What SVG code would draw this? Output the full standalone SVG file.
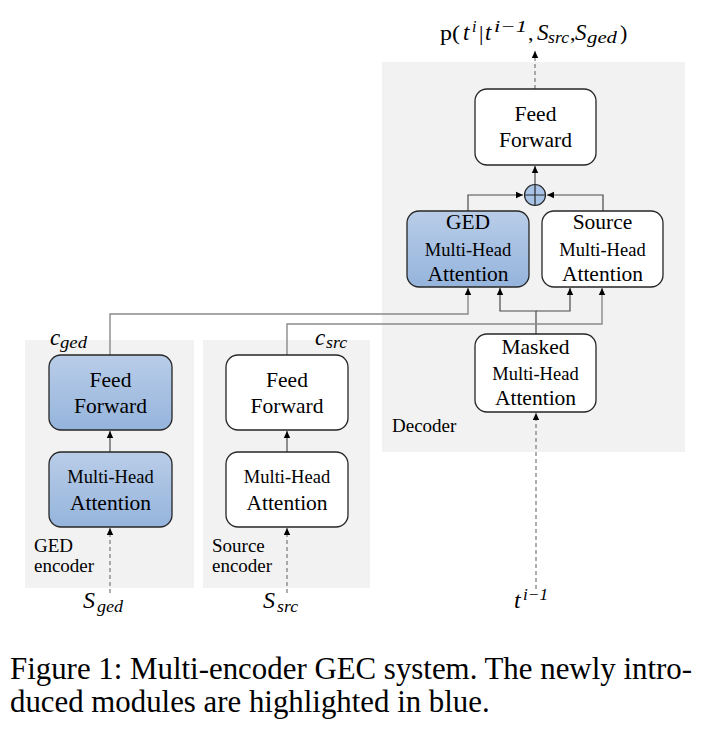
<svg xmlns="http://www.w3.org/2000/svg" width="706" height="732" viewBox="0 0 706 732">
<defs>
<linearGradient id="blue" x1="0" y1="0" x2="0" y2="1">
<stop offset="0" stop-color="#b9cde8"/>
<stop offset="1" stop-color="#95b4dc"/>
</linearGradient>
<marker id="ah" markerUnits="userSpaceOnUse" markerWidth="8" markerHeight="8" refX="7" refY="4" orient="auto">
<path d="M0,0.8 L7,4 L0,7.2 Z" fill="#000"/>
</marker>
<style>
.panel{fill:#f2f2f2;stroke:none}
.box{fill:#fff;stroke:#262626;stroke-width:1.3}
.bbox{fill:url(#blue);stroke:#262626;stroke-width:1.3}
text{font-family:'Liberation Serif','Times New Roman',Times,serif;fill:#000}
.t{text-anchor:middle}
.big{font-size:21.5px}
.mid{font-size:18.5px}
.lbl{font-size:19px}
.m{font-style:italic}
.line{fill:none;stroke:#4a4a4a;stroke-width:1.2}
.gline{fill:none;stroke:#8a8a8a;stroke-width:1.4}
.dash{fill:none;stroke:#777;stroke-width:1.2;stroke-dasharray:4,3}
.cap{font-size:30.85px}
</style>
</defs>
<rect width="706" height="732" fill="#fff"/>
<g id="panels">
<rect id="ged-encoder-panel" class="panel" x="25" y="340" width="169" height="248"/>
<rect id="source-encoder-panel" class="panel" x="203" y="340" width="167" height="248"/>
<rect id="decoder-panel" class="panel" x="382" y="62" width="303" height="390"/>
</g>
<g id="connectors">
<path class="dash" d="M535,89 V51" marker-end="url(#ah)"/>
<path class="line" d="M535,184 V166" marker-end="url(#ah)"/>
<path class="line" d="M468,211 V195 H523" marker-end="url(#ah)"/>
<path class="line" d="M603,211 V195 H547" marker-end="url(#ah)"/>
<path class="line" d="M536,334 V311 H500 V288" marker-end="url(#ah)"/>
<path class="line" d="M536,311 H570 V288" marker-end="url(#ah)"/>
<path class="gline" d="M110,355 V314 H468 V288" marker-end="url(#ah)"/>
<path class="gline" d="M287,355 V324 H602 V288" marker-end="url(#ah)"/>
<path class="line" d="M110,452 V431" marker-end="url(#ah)"/>
<path class="line" d="M287,452 V431" marker-end="url(#ah)"/>
<path class="dash" d="M110,593 V528" marker-end="url(#ah)"/>
<path class="dash" d="M287,593 V528" marker-end="url(#ah)"/>
<path class="dash" d="M536,589 V413" marker-end="url(#ah)"/>
</g>
<g id="dec-ff">
<rect class="box" x="475" y="89" width="121" height="76" rx="12"/>
<text class="t big" x="535.5" y="121">Feed</text>
<text class="t big" x="535.5" y="147">Forward</text>
</g>
<g id="sum">
<circle cx="535" cy="195" r="10.5" fill="#a9c3e6" stroke="#262626" stroke-width="1.2"/>
<path d="M524.5,195 H545.5 M535,184.5 V205.5" stroke="#262626" stroke-width="1.2"/>
</g>
<g id="dec-ged-mha">
<rect class="bbox" x="407" y="211" width="122" height="76" rx="12"/>
<text class="t big" x="468" y="229">GED</text>
<text class="t mid" x="468" y="256">Multi-Head</text>
<text class="t big" x="468" y="281">Attention</text>
</g>
<g id="dec-src-mha">
<rect class="box" x="542" y="211" width="121" height="76" rx="12"/>
<text class="t big" x="602.5" y="229">Source</text>
<text class="t mid" x="602.5" y="256">Multi-Head</text>
<text class="t big" x="602.5" y="281">Attention</text>
</g>
<g id="dec-masked-mha">
<rect class="box" x="475" y="334" width="121" height="78" rx="12"/>
<text class="t big" x="535.5" y="354">Masked</text>
<text class="t mid" x="535.5" y="380">Multi-Head</text>
<text class="t big" x="535.5" y="405">Attention</text>
</g>
<g id="enc-ged-ff">
<rect class="bbox" x="49" y="355" width="123" height="75" rx="12"/>
<text class="t big" x="110.5" y="387">Feed</text>
<text class="t big" x="110.5" y="413">Forward</text>
</g>
<g id="enc-ged-mha">
<rect class="bbox" x="49" y="452" width="123" height="75" rx="12"/>
<text class="t mid" x="110.5" y="483">Multi-Head</text>
<text class="t big" x="110.5" y="510">Attention</text>
</g>
<g id="enc-src-ff">
<rect class="box" x="226" y="355" width="122" height="75" rx="12"/>
<text class="t big" x="287" y="387">Feed</text>
<text class="t big" x="287" y="413">Forward</text>
</g>
<g id="enc-src-mha">
<rect class="box" x="226" y="452" width="122" height="75" rx="12"/>
<text class="t mid" x="287" y="483">Multi-Head</text>
<text class="t big" x="287" y="510">Attention</text>
</g>
<g id="labels">
<text class="lbl" x="34" y="552">GED</text>
<text class="lbl" x="34" y="572">encoder</text>
<text class="lbl" x="212" y="552">Source</text>
<text class="lbl" x="212" y="572">encoder</text>
<text class="lbl" x="392" y="432">Decoder</text>
<text class="m" x="50" y="345" font-size="23">c</text>
<text class="m" x="60" y="348" font-size="16" textLength="27" lengthAdjust="spacingAndGlyphs">ged</text>
<text class="m" x="315" y="345" font-size="23">c</text>
<text class="m" x="326" y="348" font-size="16" textLength="21" lengthAdjust="spacingAndGlyphs">src</text>
<text class="m" x="83" y="608" font-size="24">S</text>
<text class="m" x="97" y="612" font-size="16" textLength="26" lengthAdjust="spacingAndGlyphs">ged</text>
<text class="m" x="263" y="608" font-size="24">S</text>
<text class="m" x="277" y="612" font-size="16" textLength="21" lengthAdjust="spacingAndGlyphs">src</text>
<text class="m" x="514" y="608" font-size="24">t</text>
<text class="m" x="523" y="600" font-size="16" textLength="25" lengthAdjust="spacingAndGlyphs">i−1</text>
</g>
<g id="output-label">
<text x="440" y="40" font-size="22" textLength="20" lengthAdjust="spacingAndGlyphs">p(</text>
<text class="m" x="463" y="40" font-size="23">t</text>
<text class="m" x="472" y="32" font-size="16">i</text>
<text x="479" y="40" font-size="22">|</text>
<text class="m" x="485" y="40" font-size="23">t</text>
<text class="m" x="494" y="32" font-size="16" textLength="33" lengthAdjust="spacingAndGlyphs">i−1</text>
<text x="528" y="40" font-size="22">,</text>
<text class="m" x="537" y="40" font-size="23">S</text>
<text class="m" x="548" y="43" font-size="16" textLength="21" lengthAdjust="spacingAndGlyphs">src</text>
<text x="570" y="40" font-size="22">,</text>
<text class="m" x="575" y="40" font-size="23">S</text>
<text class="m" x="587" y="43" font-size="16" textLength="30" lengthAdjust="spacingAndGlyphs">ged</text>
<text x="620" y="40" font-size="22">)</text>
</g>
<g id="caption">
<text class="cap" x="10" y="679" textLength="682" lengthAdjust="spacingAndGlyphs">Figure 1: Multi-encoder GEC system. The newly intro-</text>
<text class="cap" x="10" y="712">duced modules are highlighted in blue.</text>
</g>
</svg>
